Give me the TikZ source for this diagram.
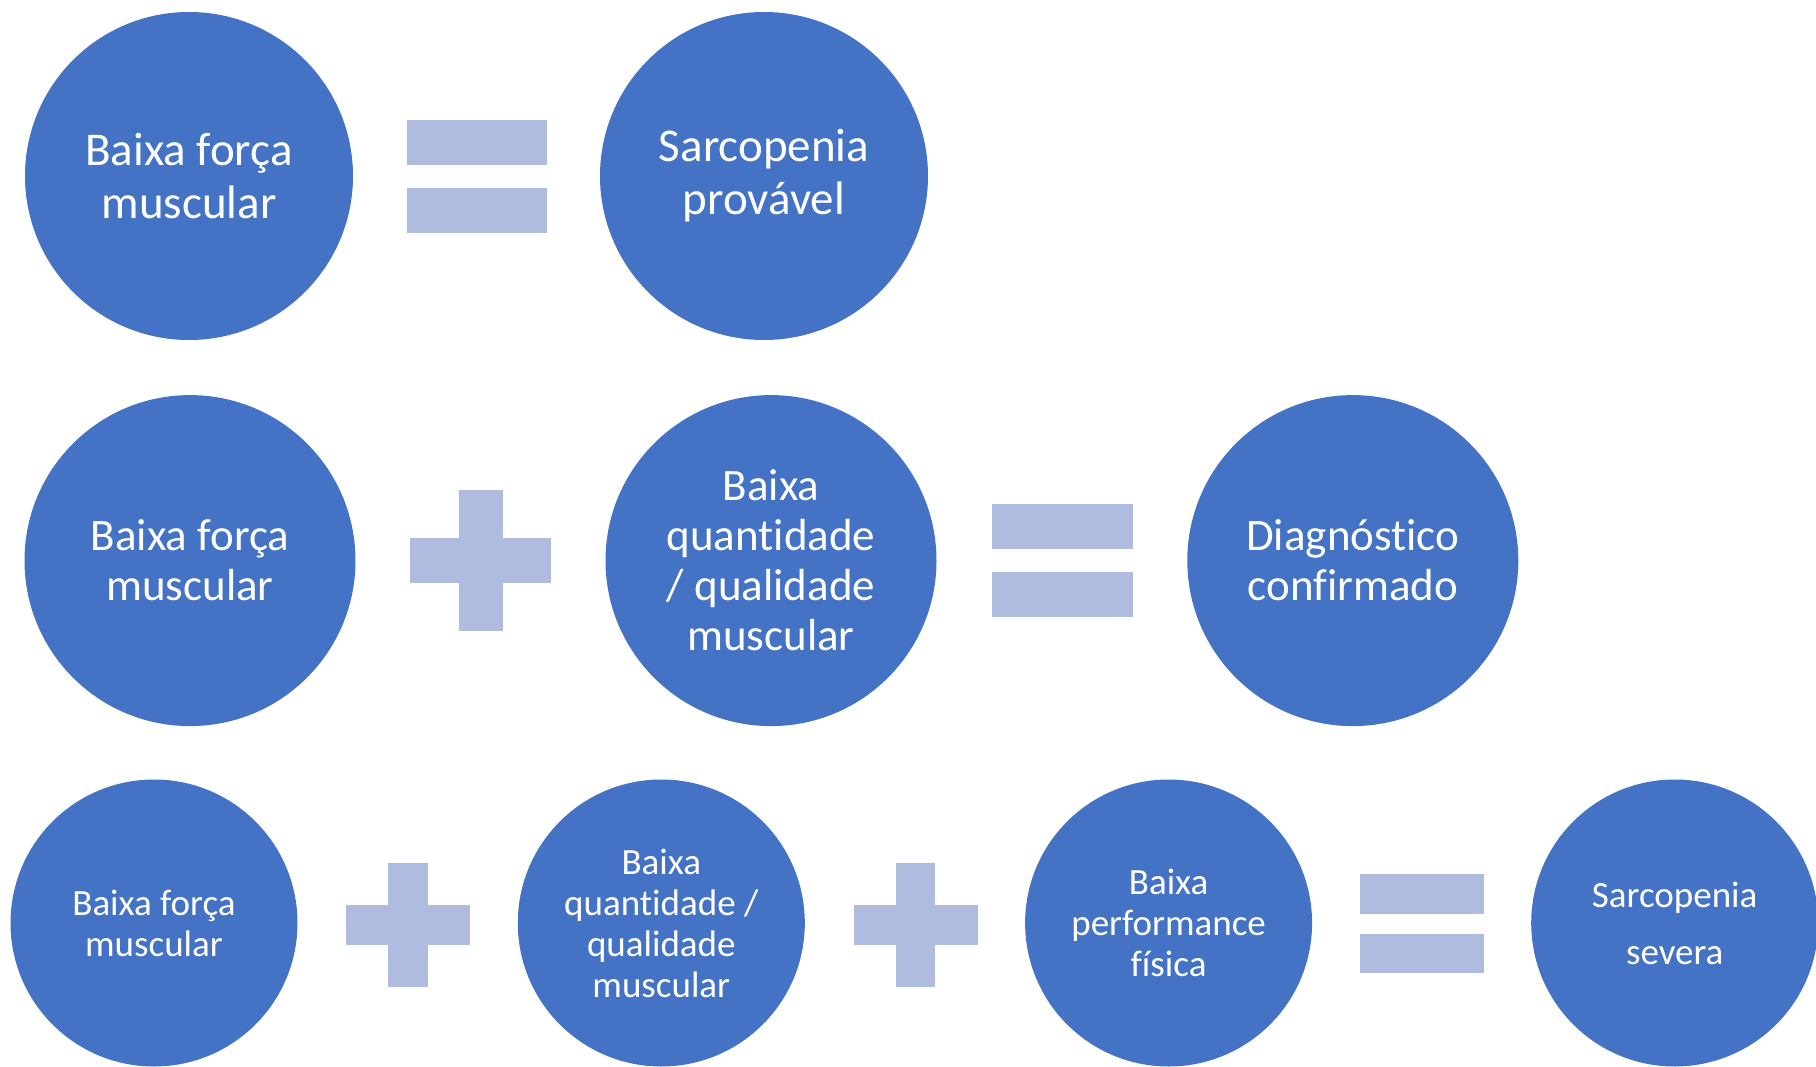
\documentclass[tikz,border=0pt]{standalone}
\usepackage{fontspec}
\setmainfont{Carlito}[Ligatures=NoCommon]
\begin{document}
\begin{tikzpicture}[x=1pt,y=-1pt,
  disc/.style={circle,fill=discblue,draw=none,inner sep=0pt,minimum size=#1,
    text=white,align=center},
  bar/.style={rectangle,fill=barblue,draw=none,inner sep=0pt},
  bigtext/.style={font=\fontsize{47}{53}\selectfont},
  midtext/.style={font=\fontsize{45}{50}\selectfont},
  smalltext/.style={font=\fontsize{37}{41}\selectfont}]
\definecolor{discblue}{HTML}{4472C4}
\definecolor{barblue}{HTML}{AFBCDF}
\useasboundingbox (0,0) rectangle (1816,1067);

% first row: low strength = probable sarcopenia
\node[disc=328pt,bigtext] (a1) at (189,176) {Baixa força\\muscular};
\node[disc=328pt,bigtext] (a2) at (764,176) {Sarcopenia\\provável};
\node[bar,minimum width=140pt,minimum height=45pt] (aeq1) at (476.6,143) {};
\node[bar,minimum width=140pt,minimum height=45pt] (aeq2) at (476.6,210.2) {};

% second row: strength + quantity/quality = confirmed diagnosis
\node[disc=331pt,midtext] (b1) at (190,560.6) {Baixa força\\muscular};
\node[disc=331pt,midtext] (b2) at (771,560.6) {Baixa\\quantidade\\/ qualidade\\muscular};
\node[disc=331pt,midtext] (b3) at (1352.8,560.6) {Diagnóstico\\confirmado};
\node[bar,minimum width=44pt,minimum height=141pt] (bplv) at (480.6,560.5) {};
\node[bar,minimum width=141pt,minimum height=45pt] (bplh) at (480.6,560.5) {};
\node[bar,minimum width=141pt,minimum height=45pt] (beq1) at (1062,526.4) {};
\node[bar,minimum width=141pt,minimum height=45pt] (beq2) at (1062,594.8) {};

% third row: strength + quantity/quality + performance = severe sarcopenia
\node[disc=287pt,smalltext] (c1) at (154,923) {Baixa força\\muscular};
\node[disc=287pt,smalltext] (c2) at (661.3,923) {Baixa\\quantidade /\\qualidade\\muscular};
\node[disc=287pt,smalltext] (c3) at (1168.6,923) {Baixa\\performance\\física};
\node[disc=287pt,font=\fontsize{37}{57}\selectfont] (c4) at (1674.7,923) {Sarcopenia\\severa};
\node[bar,minimum width=39.4pt,minimum height=124pt] (cp1v) at (408,924.8) {};
\node[bar,minimum width=124pt,minimum height=40.4pt] (cp1h) at (408,924.8) {};
\node[bar,minimum width=39.4pt,minimum height=124pt] (cp2v) at (915.5,924.8) {};
\node[bar,minimum width=124pt,minimum height=40.4pt] (cp2h) at (915.5,924.8) {};
\node[bar,minimum width=124pt,minimum height=39.4pt] (ceq1) at (1421.6,894.1) {};
\node[bar,minimum width=124pt,minimum height=39.4pt] (ceq2) at (1421.6,953.2) {};
\end{tikzpicture}
\end{document}
